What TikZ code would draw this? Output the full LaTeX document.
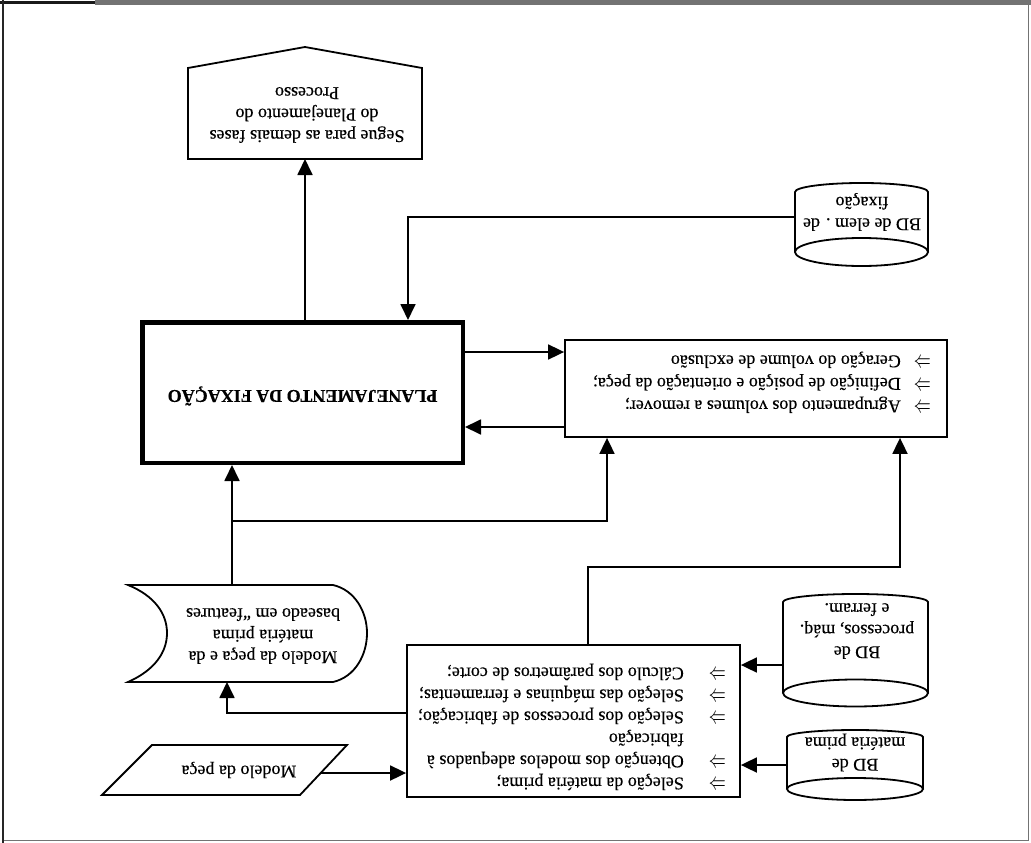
\documentclass[tikz,border=0pt]{standalone}
\usepackage{fontspec}
\usepackage{graphicx}
\setmainfont{Liberation Serif}[FakeBold=0.35]
\newcommand{\impl}{\resizebox{17pt}{9pt}{$\Rightarrow$}}
\usetikzlibrary{arrows.meta}
\begin{document}
\begin{tikzpicture}[x=1pt,y=1pt,
  every node/.style={font=\fontsize{18}{21.5}\selectfont},
  shapeline/.style={line width=1.8pt, line join=miter, fill=white},
  box/.style={draw, line width=1.8pt, inner sep=0pt, fill=white},
  txt/.style={rotate=180, align=center, inner sep=0pt},
  listtxt/.style={rotate=180, inner sep=0pt, anchor=west, font=\fontsize{18}{22}\selectfont},
  arr/.style={line width=1.8pt, -{Triangle[length=16pt,width=15pt]}},
  wire/.style={line width=1.8pt}]
\useasboundingbox (0,0) rectangle (1031,-843);
\fill[white] (0,0) rectangle (1031,-843);

% page frame
\draw[line width=1pt, black!55] (3,-4) rectangle (1028,-840);
\draw[line width=5pt, black!55] (95,-3) -- (1031,-3);
\draw[line width=3pt, black!90] (0,-3) -- (95,-3);
\draw[line width=2pt, black!85] (3,0) -- (3,-843);

% central process box
\node[box, line width=4.5pt, minimum width=320.5pt, minimum height=140.5pt] (main) at (302.5,-392.5) {};
\node[txt, font=\fontsize{18}{21.5}\selectfont\bfseries] (maintxt) at (302.5,-396) {PLANEJAMENTO DA FIXAÇÃO};

% fixture steps box
\node[box, minimum width=382pt, minimum height=97pt] (steps) at (756,-388.5) {};
\node[listtxt, font=\fontsize{18}{22.5}\selectfont] (stepstxt) at (931,-382.5) {%
  \begin{tabular}{@{}l@{\hspace{13pt}}l@{}}
  \impl & Agrupamento dos volumes a remover;\\
  \impl & Definição de posição e orientação da peça;\\
  \impl & Geração do volume de exclusão
  \end{tabular}};

% process planning operations box
\node[box, minimum width=333pt, minimum height=152pt] (ops) at (573.5,-721) {};
\node[listtxt] (opstxt) at (726,-727) {%
  \begin{tabular}{@{}l@{\hspace{25pt}}l@{}}
  \impl & Seleção da matéria prima;\\
  \impl & Obtenção dos modelos adequados à\\
        & fabricação\\
  \impl & Seleção dos processos de fabricação;\\
  \impl & Seleção das máquinas e ferramentas;\\
  \impl & Cálculo dos parâmetros de corte;
  \end{tabular}};

% off-page connector
\draw[shapeline] (188,-159) -- (188,-68) -- (305,-47) -- (422,-68) -- (422,-159) -- cycle;
\coordinate (segue) at (305,-159);
\node[txt] (seguetxt) at (307,-115) {Segue para as demais fases\\do Planejamento do\\Processo};

% database: fixture elements
\draw[shapeline] (795,-252) -- (795,-192) arc[start angle=180, end angle=0, x radius=66.5, y radius=9] -- (928,-252);
\draw[shapeline] (861.5,-252) ellipse[x radius=66.5, y radius=14];
\coordinate (fixL) at (795,-217);
\node[txt] (fixtxt) at (862,-212) {BD de elem . de\\fixação};

% database: processes, machines and tools
\draw[shapeline] (783,-693) -- (783,-602) arc[start angle=180, end angle=0, x radius=72.5, y radius=8] -- (928,-693);
\draw[shapeline] (855.5,-693) ellipse[x radius=72.5, y radius=13.5];
\coordinate (procL) at (783,-665);
\node[txt] (proctxt) at (857,-631) {BD de\\processos, máq.\\e ferram.};

% database: raw material
\draw[shapeline] (787,-789) -- (787,-737) arc[start angle=180, end angle=0, x radius=68, y radius=7] -- (923,-789);
\draw[shapeline] (855,-789) ellipse[x radius=68, y radius=11];
\coordinate (matL) at (787,-765);
\node[txt] (mattxt) at (855,-752.5) {BD de\\matéria prima};

% stored model
\draw[shapeline] (128,-585) -- (333,-585)
  .. controls (355,-590) and (367,-612) .. (367,-633)
  .. controls (367,-655) and (355,-677) .. (333,-682)
  -- (128,-682)
  .. controls (155,-670) and (167,-652) .. (167,-633)
  .. controls (167,-614) and (155,-596) .. (128,-585) -- cycle;
\coordinate (docT) at (232,-585);
\coordinate (docB) at (227,-682);
\coordinate (docJ) at (232,-521);
\node[txt] (doctxt) at (263,-636) {Modelo da peça e da\\matéria prima\\baseado em “features};

% part model input
\draw[shapeline] (152,-745) -- (347,-745) -- (300,-795) -- (102,-795) -- cycle;
\coordinate (pecaR) at (321,-773);
\node[txt] (pecatxt) at (239,-770) {Modelo da peça};

% helper levels for connectors
\coordinate (hA) at (0,-352);
\coordinate (hB) at (0,-427);
\coordinate (hC) at (0,-713);
\coordinate (bend) at (900,-567);

% connectors
\draw[arr] ([xshift=2.5pt]main.north) -- (segue);
\draw[arr] (fixL) -| ([xshift=105.5pt]main.north);
\draw[arr] (main.east |- hA) -- (steps.west |- hA);
\draw[arr] (steps.west |- hB) -- (main.east |- hB);
\draw[arr] (docT) -- (main.south -| docT);
\draw[arr] (docJ) -| ([xshift=-149pt]steps.south);
\draw[arr] ([xshift=14.5pt]ops.north) |- (bend) -- ([xshift=144pt]steps.south);
\draw[arr] (ops.west |- hC) -| (docB);
\draw[arr] (procL) -- (ops.east |- procL);
\draw[arr] (matL) -- (ops.east |- matL);
\draw[arr] (pecaR) -- (ops.west |- pecaR);
\end{tikzpicture}
\end{document}
